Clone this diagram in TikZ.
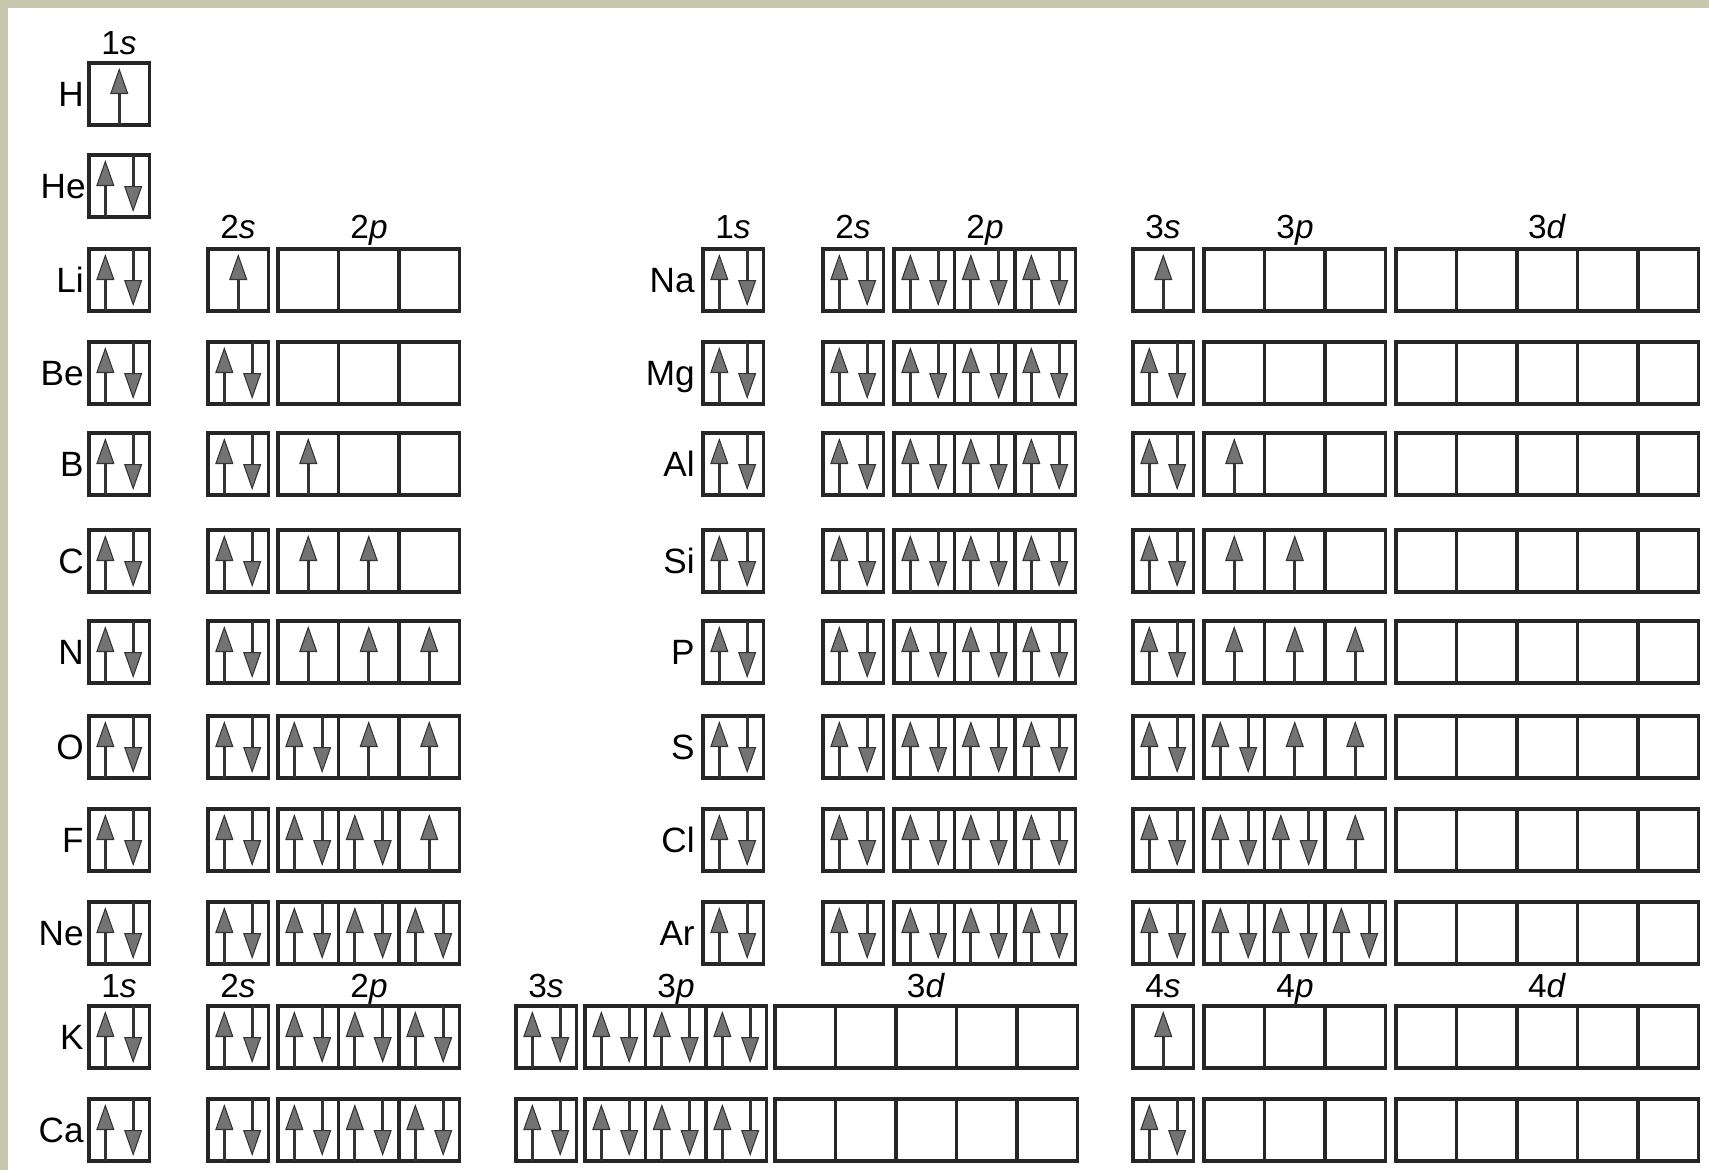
\documentclass[tikz,border=0pt]{standalone}
\usepackage{fontspec}
\setmainfont{Liberation Sans}
\usepackage{xcolor}
\usetikzlibrary{arrows.meta}
\usetikzlibrary{math}

\definecolor{framebeige}{RGB}{200,200,176}

\tikzset{
  cellbox/.style={draw=black!85, line width=2pt},
  spinup/.style={draw=black!80, line width=1.8pt,
    -{Triangle[length=5.2mm, width=3.6mm, line width=0.6pt, fill=black!55]}},
  spindown/.style={spinup},
  elsym/.style={anchor=base east, inner sep=0pt, font=\fontsize{20}{24}\selectfont},
  orblabel/.style={anchor=base, inner sep=0pt, font=\fontsize{19}{23}\selectfont},
}

% one sub-shell: left x, row y, occupation of each cell (0, 1 or 2)
\newcommand{\orbshell}[3]{%
  \foreach \occ [count=\n from 0] in {#3}{
    \draw[cellbox] ({#1+\n*\cellw},{#2-\cellh/2}) rectangle ({#1+(\n+1)*\cellw},{#2+\cellh/2});
    \ifcase\occ
    \or
      \draw[spinup] ({#1+(\n+0.5)*\cellw},{#2+\cellh/2}) -- ({#1+(\n+0.5)*\cellw},{#2-\cellh/2+5});
    \or
      \draw[spinup] ({#1+(\n+0.27)*\cellw},{#2+\cellh/2}) -- ({#1+(\n+0.27)*\cellw},{#2-\cellh/2+5});
      \draw[spindown] ({#1+(\n+0.73)*\cellw},{#2-\cellh/2}) -- ({#1+(\n+0.73)*\cellw},{#2+\cellh/2-5});
    \fi
  }%
}
\newcommand{\elname}[3]{\node[elsym] (el#1) at (#2,{#3+12}) {#1};}

\begin{document}
\begin{tikzpicture}[x=0.2mm, y=-0.2mm]
\tikzmath{
\cellw=60.5;
\cellh=62;
\xOneS=89;
\xTwoS=208;
\xTwoP=278;
\xNaOneS=703;
\xNaTwoS=823;
\xNaTwoP=894;
\xThreeS=1133;
\xThreeP=1204;
\xThreeD=1396;
\xKThreeS=516;
\xKThreeP=585;
\xKThreeD=775;
}

\useasboundingbox (0,0) rectangle (1709,1170);
\fill[framebeige] (0,0) rectangle (1709,1170);
\fill[white] (8,8) rectangle (1709,1170);

% H and He
\elname{H}{84}{94}
\orbshell{\xOneS}{94}{1}
\elname{He}{86}{186}
\orbshell{\xOneS}{186}{2}

% second and third period side by side
\foreach \ela/\elb/\r/\s/\pa/\pb/\pc in {Li/Na/280/1/0/0/0, Be/Mg/373/2/0/0/0,
  B/Al/464/2/1/0/0, C/Si/561/2/1/1/0, N/P/652/2/1/1/1, O/S/747/2/2/1/1,
  F/Cl/840/2/2/2/1, Ne/Ar/933/2/2/2/2}{
\elname{\ela}{84}{\r}
\orbshell{\xOneS}{\r}{2}
\orbshell{\xTwoS}{\r}{\s}
\orbshell{\xTwoP}{\r}{\pa,\pb,\pc}
\elname{\elb}{695}{\r}
\orbshell{\xNaOneS}{\r}{2}
\orbshell{\xNaTwoS}{\r}{2}
\orbshell{\xNaTwoP}{\r}{2,2,2}
\orbshell{\xThreeS}{\r}{\s}
\orbshell{\xThreeP}{\r}{\pa,\pb,\pc}
\orbshell{\xThreeD}{\r}{0,0,0,0,0}
}

% K and Ca
\foreach \el/\r/\s in {K/1037/1, Ca/1130/2}{
\elname{\el}{84}{\r}
\orbshell{\xOneS}{\r}{2}
\orbshell{\xTwoS}{\r}{2}
\orbshell{\xTwoP}{\r}{2,2,2}
\orbshell{\xKThreeS}{\r}{2}
\orbshell{\xKThreeP}{\r}{2,2,2}
\orbshell{\xKThreeD}{\r}{0,0,0,0,0}
\orbshell{\xThreeS}{\r}{\s}
\orbshell{\xThreeP}{\r}{0,0,0}
\orbshell{\xThreeD}{\r}{0,0,0,0,0}
}

% sub-shell labels
\node[orblabel] (lbH1s) at (119,54) {1\textit{s}};

\node[orblabel] (lbLi2s) at (238,238) {2\textit{s}};
\node[orblabel] (lbLi2p) at (369,238) {2\textit{p}};
\node[orblabel] (lbNa1s) at (733,238) {1\textit{s}};
\node[orblabel] (lbNa2s) at (853,238) {2\textit{s}};
\node[orblabel] (lbNa2p) at (985,238) {2\textit{p}};
\node[orblabel] (lbNa3s) at (1163,238) {3\textit{s}};
\node[orblabel] (lbNa3p) at (1295,238) {3\textit{p}};
\node[orblabel] (lbNa3d) at (1547,238) {3\textit{d}};

\node[orblabel] (lbK1s) at (119,997) {1\textit{s}};
\node[orblabel] (lbK2s) at (238,997) {2\textit{s}};
\node[orblabel] (lbK2p) at (369,997) {2\textit{p}};
\node[orblabel] (lbK3s) at (546,997) {3\textit{s}};
\node[orblabel] (lbK3p) at (676,997) {3\textit{p}};
\node[orblabel] (lbK3d) at (926,997) {3\textit{d}};
\node[orblabel] (lbK4s) at (1163,997) {4\textit{s}};
\node[orblabel] (lbK4p) at (1295,997) {4\textit{p}};
\node[orblabel] (lbK4d) at (1547,997) {4\textit{d}};

\end{tikzpicture}
\end{document}
